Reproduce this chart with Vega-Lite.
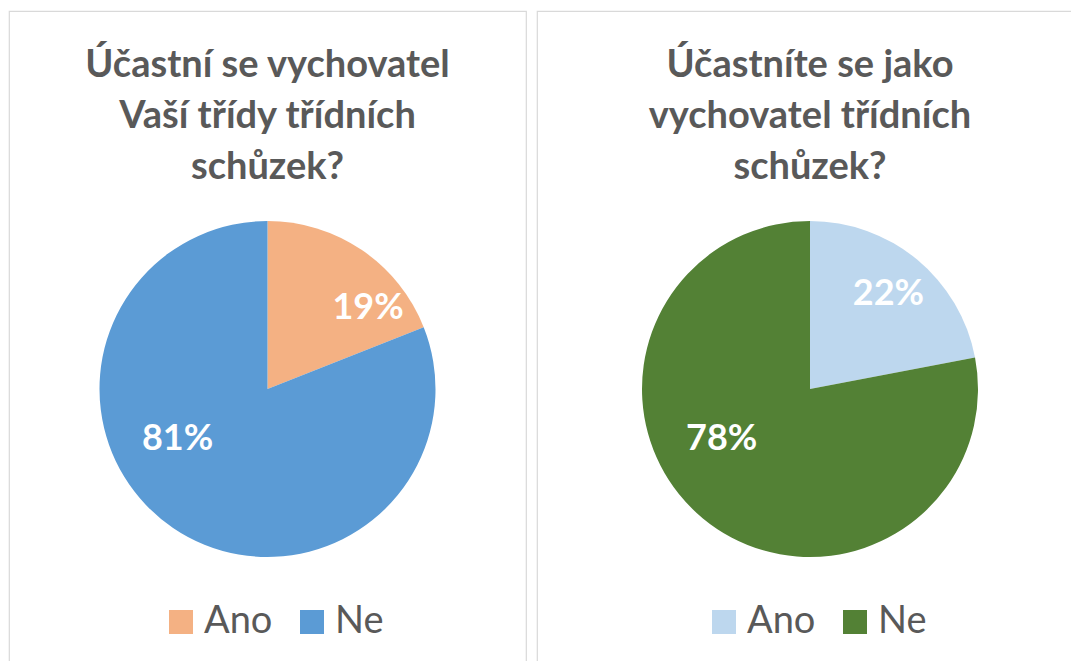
{
  "$schema": "https://vega.github.io/schema/vega-lite/v6.json",
  "padding": {"left": 8, "top": 10, "right": 0, "bottom": 0},
  "background": "white",
  "spacing": 9,
  "config": {
    "view": {"stroke": "#D9D9D9", "strokeWidth": 1.2},
    "style": {"cell": {"stroke": "#D9D9D9", "strokeWidth": 1.2}},
    "font": "Lato",
    "title": {"frame": "group", "anchor": "middle", "baseline": "top", "offset": -176, "fontSize": 38, "fontWeight": "bold", "color": "#595959", "lineHeight": 51, "font": "Lato"},
    "legend": {"orient": "none", "direction": "horizontal", "title": null, "symbolType": "square", "symbolSize": 576, "symbolStrokeWidth": 0, "symbolOpacity": 1, "labelFontSize": 38, "labelFont": "Lato", "labelColor": "#595959", "labelOffset": 4, "columnPadding": 20, "padding": 0, "labelLimit": 300}
  },
  "resolve": {"scale": {"color": "independent", "theta": "independent"}, "legend": {"color": "independent"}},
  "hconcat": [
    {
      "width": 517,
      "height": 756,
      "view": {"stroke": "#D9D9D9", "strokeWidth": 1.2},
      "title": {"text": ["Účastní se vychovatel", "Vaší třídy třídních", "schůzek?"]},
      "data": {"values": [
        {"odpoved": "Ano", "podil": 0.19},
        {"odpoved": "Ne", "podil": 0.81}
      ]},
      "encoding": {
        "theta": {"field": "podil", "type": "quantitative", "stack": true},
        "color": {"field": "odpoved", "type": "nominal", "scale": {"domain": ["Ano", "Ne"], "range": ["#F4B183", "#5B9BD5"]}, "legend": {"legendX": 153, "legendY": 592}}
      },
      "layer": [
        {"mark": {"type": "arc", "outerRadius": 168}},
        {
          "mark": {"type": "text", "radius": 129, "dx": 28, "dy": 26, "fontSize": 36, "fontWeight": "bold", "font": "Lato", "align": "center", "baseline": "middle", "fill": "white"},
          "encoding": {"text": {"condition": {"test": "datum.odpoved == 'Ano'", "field": "podil", "format": ".0%"}, "value": ""}, "color": {"value": "white"}}
        },
        {
          "mark": {"type": "text", "radius": 103, "dx": -32, "dy": -35, "fontSize": 36, "fontWeight": "bold", "font": "Lato", "align": "center", "baseline": "middle", "fill": "white"},
          "encoding": {"text": {"condition": {"test": "datum.odpoved == 'Ne'", "field": "podil", "format": ".0%"}, "value": ""}, "color": {"value": "white"}}
        }
      ]
    },
    {
      "width": 546,
      "height": 756,
      "view": {"stroke": "#D9D9D9", "strokeWidth": 1.2},
      "title": {"text": ["Účastníte se jako", "vychovatel třídních", "schůzek?"]},
      "data": {"values": [
        {"odpoved": "Ano", "podil": 0.22},
        {"odpoved": "Ne", "podil": 0.78}
      ]},
      "encoding": {
        "theta": {"field": "podil", "type": "quantitative", "stack": true},
        "color": {"field": "odpoved", "type": "nominal", "scale": {"domain": ["Ano", "Ne"], "range": ["#BDD7EE", "#538135"]}, "legend": {"legendX": 168, "legendY": 592}}
      },
      "layer": [
        {"mark": {"type": "arc", "outerRadius": 168}},
        {
          "mark": {"type": "text", "radius": 123, "dx": 0, "dy": 0, "fontSize": 36, "fontWeight": "bold", "font": "Lato", "align": "center", "baseline": "middle", "fill": "white"},
          "encoding": {"text": {"condition": {"test": "datum.odpoved == 'Ano'", "field": "podil", "format": ".0%"}, "value": ""}, "color": {"value": "white"}}
        },
        {
          "mark": {"type": "text", "radius": 101, "dx": -24, "dy": -28, "fontSize": 36, "fontWeight": "bold", "font": "Lato", "align": "center", "baseline": "middle", "fill": "white"},
          "encoding": {"text": {"condition": {"test": "datum.odpoved == 'Ne'", "field": "podil", "format": ".0%"}, "value": ""}, "color": {"value": "white"}}
        }
      ]
    }
  ]
}
